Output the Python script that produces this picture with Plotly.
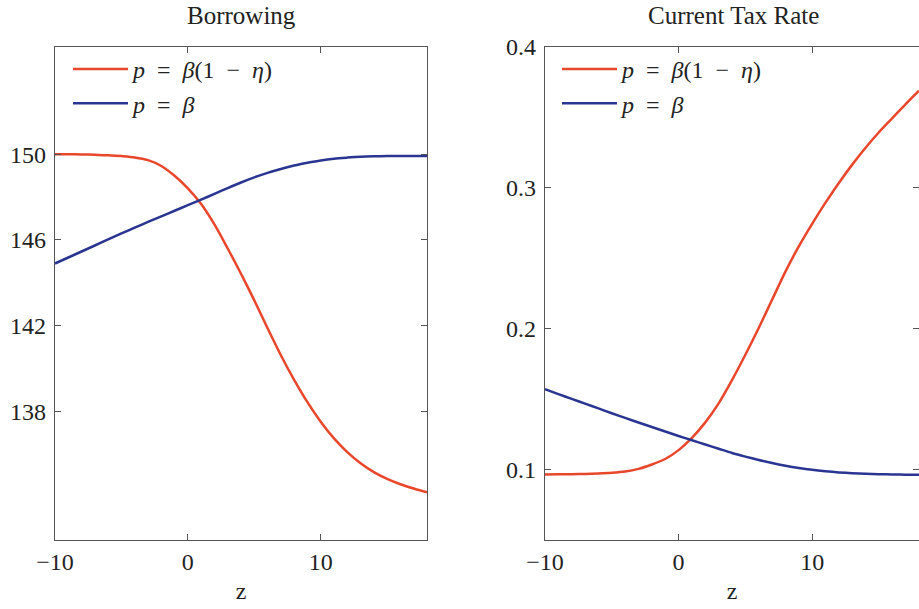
import plotly.graph_objects as go

# Grid of the state variable z
z = list(range(-10, 19))

# Borrowing under the two discount specifications
borrow_quasi = [150.00, 150.00, 149.99, 149.97, 149.95, 149.91, 149.85, 149.72, 149.45, 148.99,
                148.40, 147.67, 146.72, 145.60, 144.42, 143.18, 141.88, 140.62, 139.47, 138.43,
                137.52, 136.74, 136.10, 135.58, 135.17, 134.85, 134.60, 134.40, 134.22]
borrow_exp = [144.90, 145.18, 145.46, 145.74, 146.02, 146.30, 146.57, 146.84, 147.10, 147.36,
              147.62, 147.88, 148.15, 148.42, 148.68, 148.92, 149.13, 149.31, 149.47, 149.60,
              149.71, 149.79, 149.84, 149.88, 149.90, 149.91, 149.91, 149.91, 149.91]

# Current tax rate under the two discount specifications
tax_quasi = [0.0965, 0.0966, 0.0967, 0.0969, 0.0972, 0.0977, 0.0986, 0.1005, 0.1036, 0.1075,
             0.1138, 0.1225, 0.1335, 0.1470, 0.1635, 0.1815, 0.2005, 0.2205, 0.2405, 0.2585,
             0.2745, 0.2895, 0.3035, 0.3165, 0.3285, 0.3395, 0.3495, 0.3595, 0.3690]
tax_exp = [0.1570, 0.1536, 0.1502, 0.1468, 0.1434, 0.1400, 0.1367, 0.1334, 0.1302, 0.1270,
           0.1238, 0.1208, 0.1178, 0.1148, 0.1118, 0.1092, 0.1068, 0.1046, 0.1027, 0.1011,
           0.0998, 0.0988, 0.0980, 0.0974, 0.0970, 0.0967, 0.0965, 0.0964, 0.0963]

SP = "\u2002"
labels = [f"<i>p</i>{SP}={SP}<i>β</i>(1{SP}−{SP}<i>η</i>)", f"<i>p</i>{SP}={SP}<i>β</i>"]
RED = "#e8472b"
BLUE = "#2a3592"
FONT = "Liberation Serif"
INK = "#222"

fig = go.Figure()
for series, color, name in [(borrow_quasi, RED, labels[0]), (borrow_exp, BLUE, labels[1])]:
    fig.add_trace(go.Scatter(x=z, y=series, mode="lines", name=name,
                             line=dict(color=color, width=2.5, shape="spline", smoothing=0.8),
                             xaxis="x", yaxis="y", legend="legend"))
for series, color, name in [(tax_quasi, RED, labels[0]), (tax_exp, BLUE, labels[1])]:
    fig.add_trace(go.Scatter(x=z, y=series, mode="lines", name=name,
                             line=dict(color=color, width=2.5, shape="spline", smoothing=0.8),
                             xaxis="x2", yaxis="y2", legend="legend2"))

axis_common = dict(showline=True, linecolor="#555", linewidth=1.2, mirror="ticks",
                   ticks="inside", ticklen=6, tickcolor="#555", showgrid=False,
                   zeroline=False, automargin=False,
                   tickfont=dict(family=FONT, size=24, color=INK))

# plot area spans y pixels 47..540
def py(pix):
    return (540 - pix) / 493

xtitle = dict(text="z", font=dict(family=FONT, size=24, color=INK), standoff=8)
legend_common = dict(xanchor="left", yanchor="top", xref="paper", yref="paper",
                     bgcolor="rgba(0,0,0,0)", font=dict(family=FONT, size=24, color=INK),
                     tracegroupgap=0, itemwidth=55)

fig.update_layout(
    width=919, height=609,
    margin=dict(l=0, r=0, t=47, b=69),
    paper_bgcolor="white", plot_bgcolor="white",
    showlegend=True,
    font=dict(family=FONT, size=23, color=INK),
    xaxis=dict(domain=[55 / 919, 427 / 919], range=[-10, 18], tickvals=[-10, 0, 10],
               title=xtitle, anchor="y", **axis_common),
    yaxis=dict(range=[132, 155], tickvals=[138, 142, 146, 150], anchor="x",
               ticklabelstandoff=3, **axis_common),
    xaxis2=dict(domain=[545 / 919, 1.0], range=[-10, 18], tickvals=[-10, 0, 10],
                title=xtitle, anchor="y2", **axis_common),
    yaxis2=dict(range=[0.05, 0.4], tickvals=[0.1, 0.2, 0.3, 0.4], tickformat=".1f",
                anchor="x2", ticklabelstandoff=3, **axis_common),
    legend=dict(x=68 / 919, y=py(47), **legend_common),
    legend2=dict(x=557 / 919, y=py(47), **legend_common),
    annotations=[
        dict(text="Borrowing", x=241 / 919, y=py(15), xref="paper", yref="paper",
             showarrow=False, xanchor="center", yanchor="middle",
             font=dict(family=FONT, size=25, color=INK)),
        dict(text="Current Tax Rate", x=733 / 919, y=py(15), xref="paper", yref="paper",
             showarrow=False, xanchor="center", yanchor="middle",
             font=dict(family=FONT, size=25, color=INK)),
    ],
)

fig.write_html("out.html")
